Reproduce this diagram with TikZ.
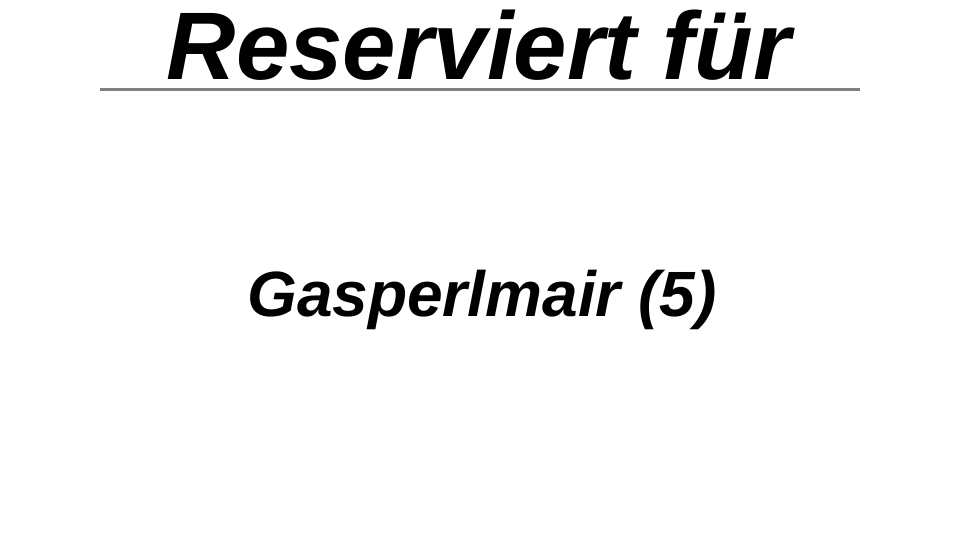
\documentclass[tikz,border=0pt]{standalone}
\usepackage{fontspec}
\setmainfont{Liberation Sans}
\usepackage{tikz}

\begin{document}
\begin{tikzpicture}[x=1pt,y=-1pt,font=\bfseries\itshape]
				\useasboundingbox (0,0) rectangle (960,540);
				\node (titel) [anchor=base,inner sep=0] at (479,80) {\fontsize{96}{96}\selectfont Reserviert für};
				\draw [line width=3,color=gray] (100,90) -- (860,90);
				\node (name) [anchor=base,inner sep=0] at (482,316) {\fontsize{64}{64}\selectfont Gasperlmair (5)};
			\end{tikzpicture}
\end{document}
